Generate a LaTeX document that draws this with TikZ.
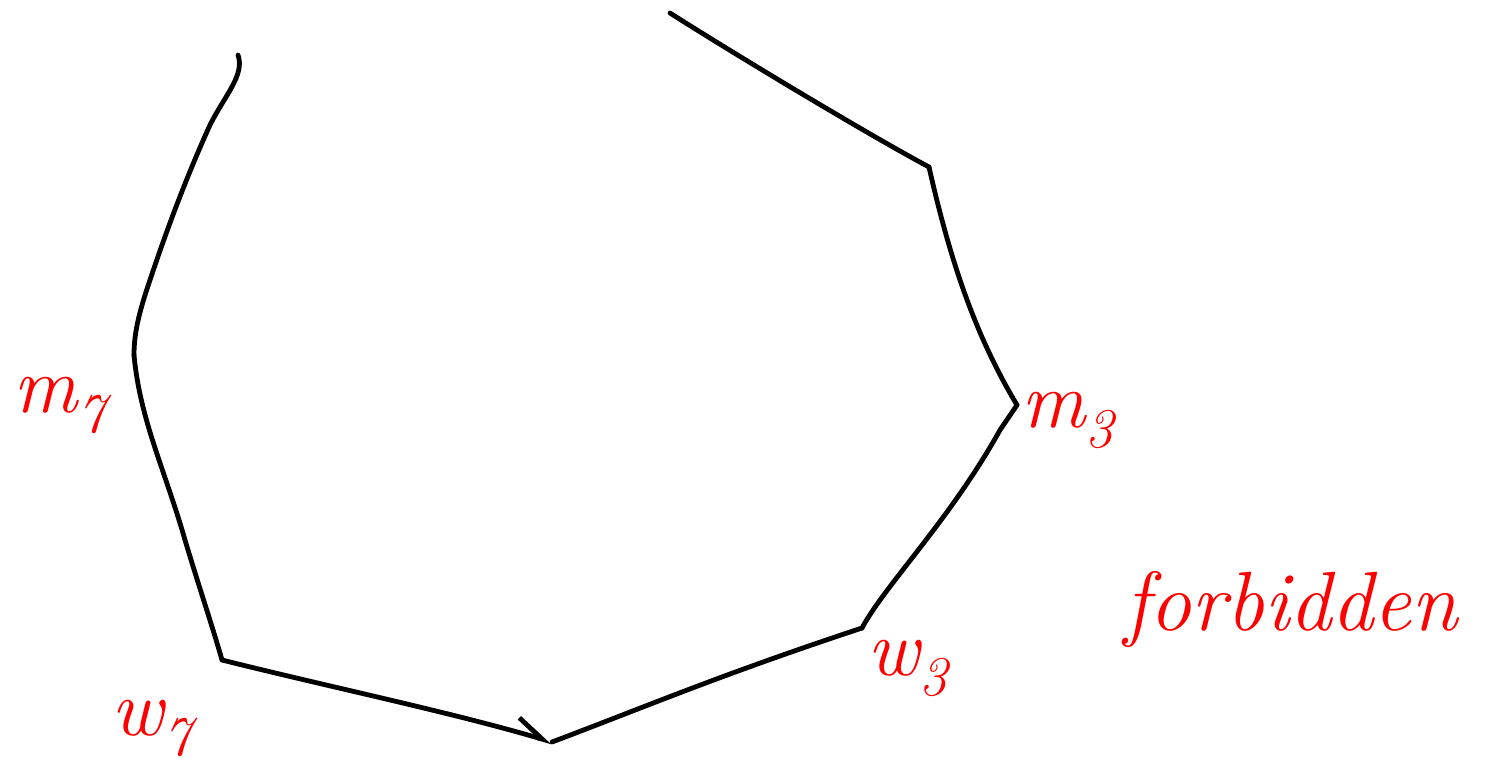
\documentclass[tikz,border=0pt]{standalone}
\usetikzlibrary{arrows.meta}
\begin{document}
\begin{tikzpicture}[x=0.5pt,y=-0.5pt,
  edge/.style={line width=2.4pt,line cap=round,line join=round},
  lbl/.style={text=red,font=\fontsize{40}{48}\selectfont\itshape,inner sep=0pt}]
\useasboundingbox (0,0) rectangle (1485,768);
\coordinate (t1) at (238,55);
\coordinate (m7) at (134,355);
\coordinate (w7) at (222,660);
\coordinate (mid) at (552,742);
\coordinate (w3) at (862,628);
\coordinate (m3) at (1017,405);
\coordinate (t2) at (929,167);
\coordinate (t3) at (670,13);
\draw[edge] (t1) .. controls (245,75) and (225,95) .. (210,125) .. controls (185,180) and (165,235) .. (150,280) .. controls (138,315) and (134,335) .. (m7);
\draw[edge] (m7) .. controls (140,420) and (165,470) .. (185,540) .. controls (200,590) and (212,625) .. (w7);
\draw[edge,-{Straight Barb[left,length=14pt,width=14pt]}] (w7) .. controls (330,687) and (450,712) .. (mid);
\draw[edge] (mid) .. controls (650,705) and (720,675) .. (w3);
\draw[edge] (w3) .. controls (885,585) and (950,520) .. (1000,430) -- (m3);
\draw[edge] (m3) .. controls (975,335) and (950,260) .. (t2);
\draw[edge] (t2) .. controls (860,130) and (720,45) .. (t3);
\node[lbl] (lm7) at (60,405) {m\textsubscript{7}};
\node[lbl] (lw7) at (152,728) {w\textsubscript{7}};
\node[lbl] (lm3) at (1068,420) {m\textsubscript{3}};
\node[lbl] (lw3) at (908,668) {w\textsubscript{3}};
\node[lbl,anchor=base west,font=\fontsize{42}{50}\selectfont\itshape] (forb) at (1124,630) {forbidden};
\end{tikzpicture}
\end{document}
